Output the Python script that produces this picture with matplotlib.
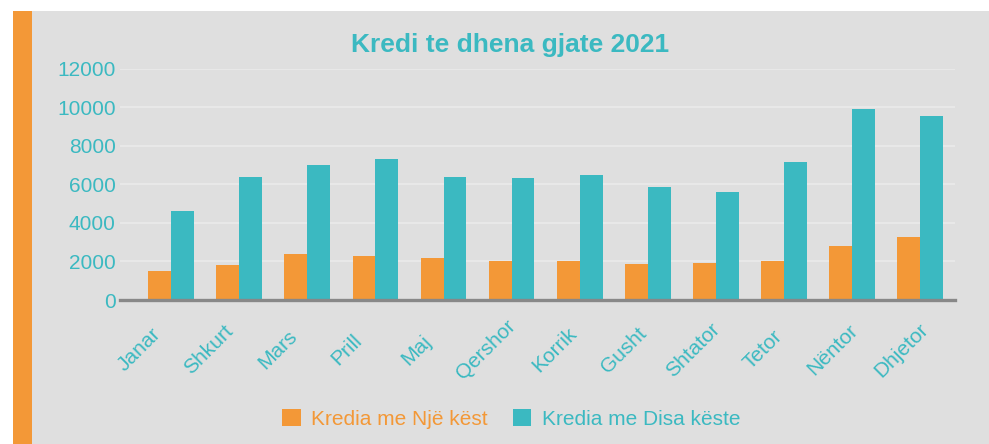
import matplotlib
matplotlib.use('Agg')
import matplotlib.pyplot as plt
from matplotlib.patches import Rectangle
from matplotlib.transforms import ScaledTranslation
import numpy as np

plt.rcParams['font.family'] = ['Liberation Sans', 'DejaVu Sans']

months = ['Janar', 'Shkurt', 'Mars', 'Prill', 'Maj', 'Qershor', 'Korrik',
          'Gusht', 'Shtator', 'Tetor', 'Nëntor', 'Dhjetor']
nje_kest = [1500, 1800, 2400, 2300, 2200, 2000, 2000, 1850, 1900, 2000, 2800, 3250]
disa_keste = [4600, 6400, 7000, 7300, 6400, 6350, 6500, 5850, 5600, 7150, 9900, 9550]
yticks = [0, 2000, 4000, 6000, 8000, 10000, 12000]

orange = '#f39837'
teal = '#3bb9c1'
bg = '#dfdfdf'

W, H = 989, 444
fig = plt.figure(figsize=(W / 100, H / 100), dpi=100)
fig.patch.set_facecolor('white')

# gray panel and orange strip on the left
fig.add_artist(Rectangle((32 / W, 0), 1 - 32 / W, 1 - 11 / H, transform=fig.transFigure,
                         facecolor=bg, edgecolor='none', zorder=0))
fig.add_artist(Rectangle((13 / W, 0), 19 / W, 1 - 11 / H, transform=fig.transFigure,
                         facecolor=orange, edgecolor='none', zorder=0))

ax = fig.add_axes([120 / W, (H - 300) / H, (955 - 120) / W, (300 - 68.8) / H])
ax.set_facecolor('none')

x = np.arange(len(months))
w = 0.335
ax.bar(x - w / 2, nje_kest, w, color=orange, label='Kredia me Një këst', zorder=2)
ax.bar(x + w / 2, disa_keste, w, color=teal, label='Kredia me Disa këste', zorder=2)

ax.set_xlim(-0.75, 11.51)
ax.set_ylim(0, 12000)
ax.set_yticks(yticks)
ax.set_yticklabels([str(v) for v in yticks])
ax.yaxis.grid(True, color='#e8e8e8', linewidth=1.6, zorder=0)
ax.set_axisbelow(True)

for s in ['top', 'right', 'left']:
    ax.spines[s].set_visible(False)
ax.spines['bottom'].set_color('#888888')
ax.spines['bottom'].set_linewidth(2.4)
ax.spines['bottom'].set_zorder(3)

ax.set_xticks(x)
ax.set_xticklabels(months, rotation=45, ha='center', va='center', rotation_mode='anchor')
ax.tick_params(axis='both', length=0, colors=teal, labelsize=15)
ax.tick_params(axis='y', pad=3)
ax.tick_params(axis='x', pad=0)
# labels sit down-left of their group, drifting a little to the right
for i, lab in enumerate(ax.get_xticklabels()):
    shift = ScaledTranslation((-32 + 1.2 * i) / 100, -50 / 100, fig.dpi_scale_trans)
    lab.set_transform(lab.get_transform() + shift)

fig.text(510 / W, 1 - 45 / H, 'Kredi te dhena gjate 2021', ha='center', va='center',
         color=teal, fontsize=19, fontweight='bold')

leg = fig.legend(loc='center', bbox_to_anchor=(511 / W, 1 - 419 / H), ncol=2,
                 frameon=False, fontsize=15, handlelength=0.9, handleheight=0.9,
                 handletextpad=0.5, columnspacing=1.2)
for t, c in zip(leg.get_texts(), [orange, teal]):
    t.set_color(c)

fig.savefig('out.png', dpi=100, facecolor=fig.get_facecolor())
